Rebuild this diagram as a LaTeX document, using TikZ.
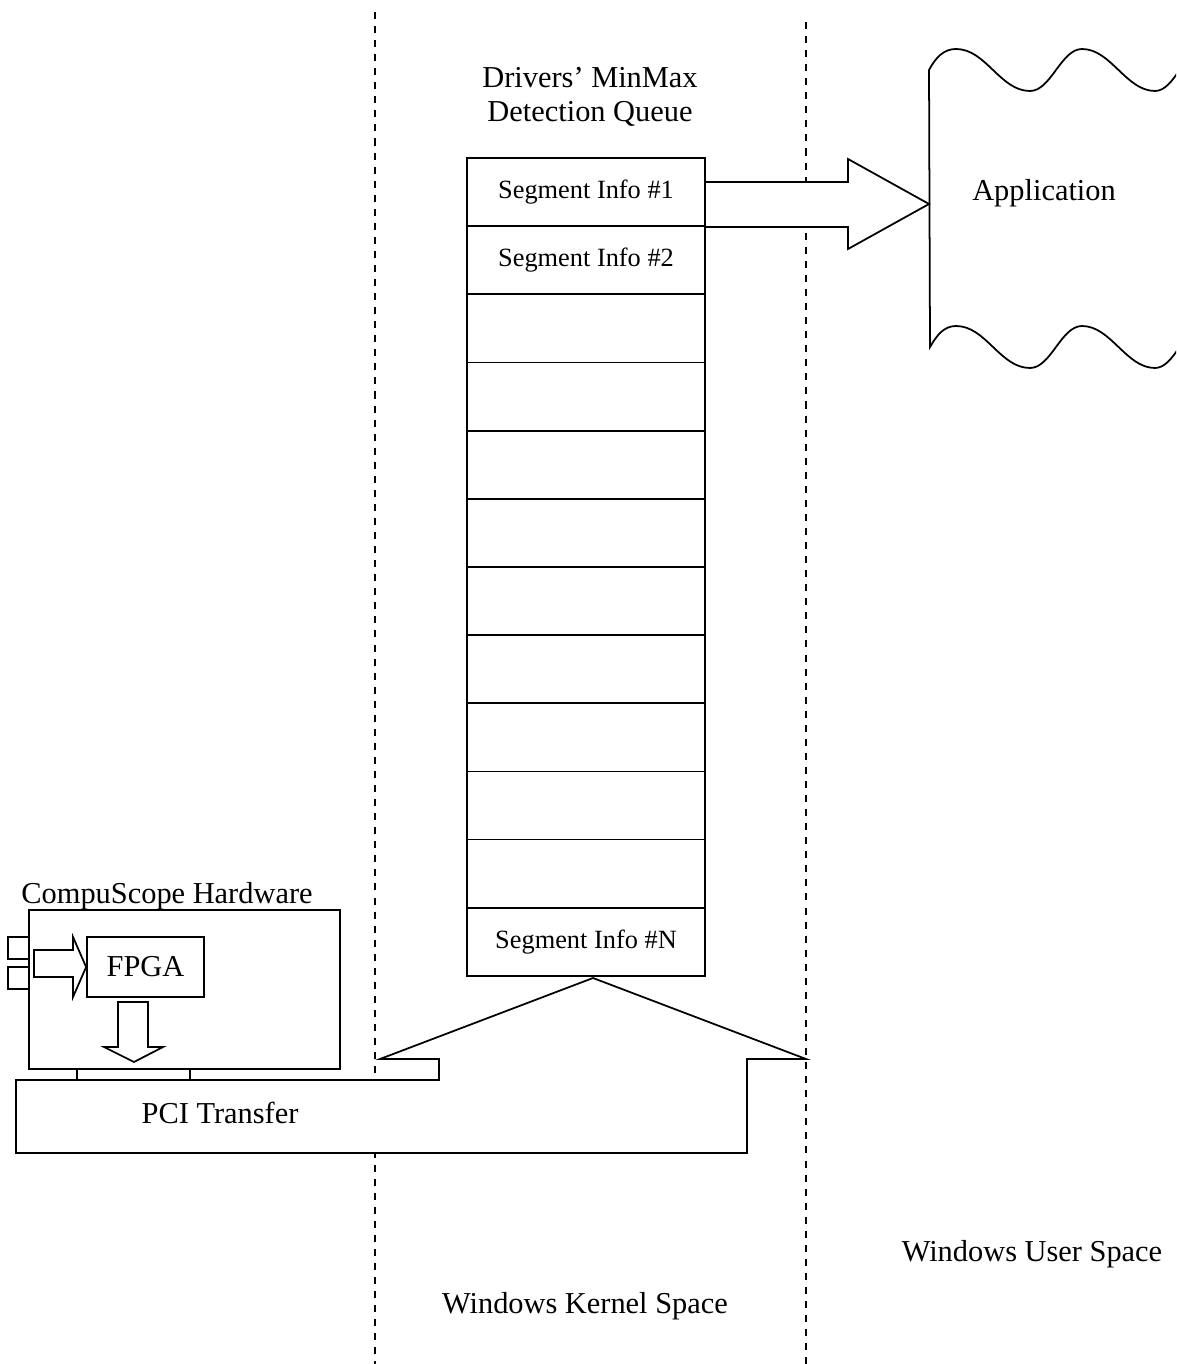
\documentclass[tikz,border=0pt]{standalone}
\usepackage{fontspec}
\setmainfont{Liberation Serif}
\usetikzlibrary{positioning}
\usetikzlibrary{calc}
\newcommand{\lblfont}{\fontsize{17.3}{19.3}\selectfont}
\newcommand{\segfont}{\fontsize{15}{17}\selectfont}
\tikzset{ln/.style={line width=1pt,line join=miter}}
\tikzset{divider/.style={line width=1pt,dash pattern=on 4pt off 4pt}}
\tikzset{cell/.style={draw,ln,minimum width=4.76cm,minimum height=1.3634cm,inner sep=0pt,outer sep=0pt,font=\segfont}}
\tikzset{lbl/.style={font=\lblfont,inner sep=0pt}}
\tikzset{hollow/.style={draw,ln,fill=white}}
\tikzset{plug/.style={draw,ln,minimum width=0.42cm,minimum height=0.44cm,inner sep=0pt}}

\begin{document}
\begin{tikzpicture}[x=0.02cm,y=-0.02cm]
\useasboundingbox (0,0) rectangle (1176,1364);

% kernel / user boundaries
\coordinate (kt) at (375,12);
\coordinate (kb) at (375,1364);
\coordinate (ut) at (806,22);
\coordinate (ub) at (806,1364);
\draw[divider] (kt) -- (kb);
\draw[divider] (ut) -- (ub);

% PCI transfer up into the queue
\coordinate (qin) at (593,978);
\draw[hollow] (16,1080) -- (439,1080) -- (439,1059) -- (380,1059) -- (qin)
  -- (806,1059) -- (747,1059) -- (747,1153) -- (16,1153) -- cycle;
\node[lbl] at (220,1113) (pci) {PCI Transfer};

% queue to application
\coordinate (aout) at (929,204);
\draw[hollow] (705,182) -- (848,182) -- (848,159) -- (aout) -- (848,249)
  -- (848,227) -- (705,227);

% queue
\node[lbl,align=center] at (590,97) (title) {Drivers’ MinMax\\Detection Queue};
\node[cell] at (586,192.1) (q1) {Segment Info \#1};
\node[cell,below=0pt of q1] (q2) {Segment Info \#2};
\foreach \i [count=\j from 2] in {3,...,11}
  \node[cell,below=0pt of q\j] (q\i) {};
\node[cell,below=0pt of q11] (q12) {Segment Info \#N};

% application (punched tape)
\begin{scope}
\clip (0,0) rectangle (1176,1364);
\draw[ln] (930,347) -- (929,70) .. controls (936,57) and (944,49) .. (956,49)
  .. controls (986,49) and (1000,91) .. (1030,91)
  .. controls (1051,91) and (1061,49) .. (1082,49)
  .. controls (1111,49) and (1126,91) .. (1155,91)
  .. controls (1175,91) and (1184,49) .. (1205,49) -- (1205,326)
  .. controls (1184,326) and (1175,368) .. (1155,368)
  .. controls (1126,368) and (1111,326) .. (1082,326)
  .. controls (1061,326) and (1051,368) .. (1030,368)
  .. controls (1000,368) and (986,326) .. (956,326)
  .. controls (944,326) and (937,335) .. (930,347) -- cycle;
\end{scope}
\node[lbl] at (1044,193) (app) {Application};

% hardware
\node[lbl,anchor=base] at (167,903) (hwname) {CompuScope Hardware};
\node[draw,ln,minimum width=6.22cm,minimum height=3.18cm,inner sep=0pt] at (184.5,989.5) (hw) {};
\node[draw,ln,lbl,minimum width=2.34cm,minimum height=1.2cm] at (145.5,967) (fpga) {FPGA};
\node[plug] at (18.5,948) (in1) {};
\node[plug] at (18.5,978) (in2) {};
\draw[ln] (34,950) -- (73,950) -- (73,937) -- (fpga.west) -- (73,997) -- (73,977)
  -- (34,977) -- cycle;
\draw[ln] (118,1002) -- (148,1002) -- (148,1047) -- (163,1047) -- (134,1062)
  -- (104,1047) -- (118,1047) -- cycle;
\coordinate (pin1) at (77,1080);
\coordinate (pin2) at (190,1080);
\draw[ln] (pin1) -- (pin1 |- hw.south);
\draw[ln] (pin2) -- (pin2 |- hw.south);

% spaces
\node[lbl] at (585,1306) (kernel) {Windows Kernel Space};
\node[lbl] at (1032,1254) (user) {Windows User Space};

\end{tikzpicture}
\end{document}
